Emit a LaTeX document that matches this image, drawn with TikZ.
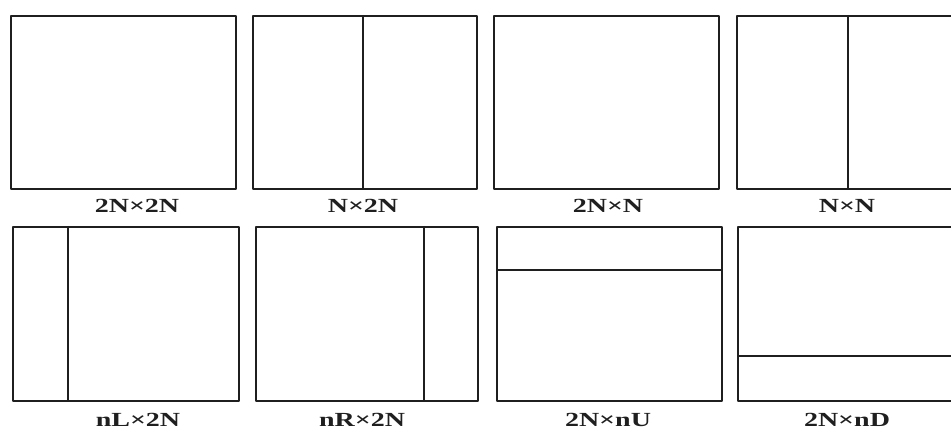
\documentclass[tikz,border=0pt]{standalone}
\usepackage{fontspec}
\setmainfont{Liberation Serif}
\begin{document}
\begin{tikzpicture}[x=1pt,y=-1pt,
  part/.style={draw=black!88,line width=2pt,line join=round},
  split/.style={draw=black!88,line width=2pt},
  lbl/.style={font=\fontsize{20}{22}\selectfont\bfseries,text=black!88,inner sep=0pt}]
\useasboundingbox (0,0) rectangle (951,430);
\clip (0,0) rectangle (951,430);
\fill[white] (0,0) rectangle (951,430);
% row 1
\node[part,minimum width=225pt,minimum height=173pt,anchor=north west] (a) at (10,15) {};
\node[part,minimum width=224pt,minimum height=173pt,anchor=north west] (b) at (252,15) {};
\node[part,minimum width=225pt,minimum height=173pt,anchor=north west] (c) at (493,15) {};
\node[part,minimum width=226pt,minimum height=173pt,anchor=north west] (d) at (736,15) {};
\coordinate (b1) at (363,15); \coordinate (b2) at (363,188);
\draw[split] (b1) -- (b2);
\coordinate (d1) at (848,15); \coordinate (d2) at (848,188);
\draw[split] (d1) -- (d2);
\node[lbl] (la) at (137,206) {\scalebox{1.4}[1]{2N×2N}};
\node[lbl] (lb) at (363,206) {\scalebox{1.4}[1]{N×2N}};
\node[lbl] (lc) at (608,206) {\scalebox{1.4}[1]{2N×N}};
\node[lbl] (ld) at (847,206) {\scalebox{1.4}[1]{N×N}};
% row 2
\node[part,minimum width=226pt,minimum height=174pt,anchor=north west] (e) at (12,226) {};
\node[part,minimum width=222pt,minimum height=174pt,anchor=north west] (f) at (255,226) {};
\node[part,minimum width=225pt,minimum height=174pt,anchor=north west] (g) at (496,226) {};
\node[part,minimum width=226pt,minimum height=174pt,anchor=north west] (h) at (737,226) {};
\coordinate (e1) at (68,226); \coordinate (e2) at (68,400);
\draw[split] (e1) -- (e2);
\coordinate (f1) at (424,226); \coordinate (f2) at (424,400);
\draw[split] (f1) -- (f2);
\coordinate (g1) at (496,270); \coordinate (g2) at (721,270);
\draw[split] (g1) -- (g2);
\coordinate (h1) at (737,356); \coordinate (h2) at (963,356);
\draw[split] (h1) -- (h2);
\node[lbl] (le) at (138,420) {\scalebox{1.4}[1]{nL×2N}};
\node[lbl] (lf) at (362,420) {\scalebox{1.4}[1]{nR×2N}};
\node[lbl] (lg) at (608,420) {\scalebox{1.4}[1]{2N×nU}};
\node[lbl] (lh) at (847,420) {\scalebox{1.4}[1]{2N×nD}};
\end{tikzpicture}
\end{document}
